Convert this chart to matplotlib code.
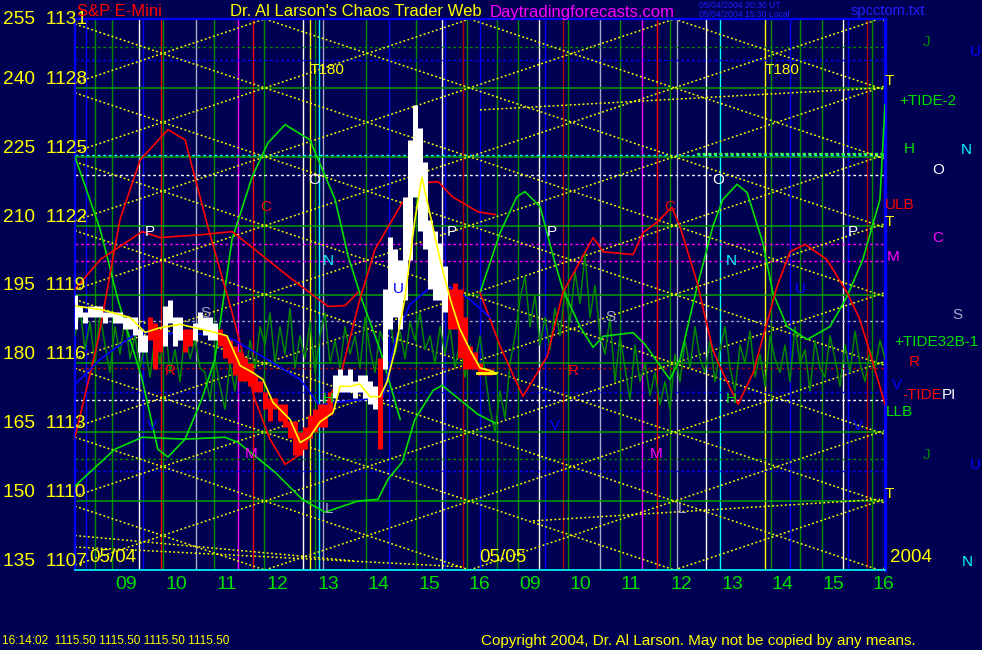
import numpy as np
import matplotlib
matplotlib.use('Agg')
import matplotlib.pyplot as plt
import matplotlib.transforms as mtransforms

plt.rcParams['font.family'] = ['Liberation Sans', 'DejaVu Sans']

BG = '#000052'
COL = {'blue': '#0000ff', 'green': '#008c00', 'white': '#ffffff', 'red': '#ff0000',
       'darkred': '#b00000', 'gray': '#a8a8c8', 'magenta': '#ff00ff', 'yellow': '#ffff00',
       'cyan': '#00ffff', 'lime': '#00e000'}

# x axis = hours (0 = 09:00 on 05/04, 8 = 09:00 on 05/05), y = chart scale (180 <-> 1116)
hour_ticks = list(range(16))
hour_labels = ['09', '10', '11', '12', '13', '14', '15', '16',
               '09', '10', '11', '12', '13', '14', '15', '16']
scale_levels = [255, 240, 225, 210, 195, 180, 165, 150, 135]
price_labels = ['1131', '1128', '1125', '1122', '1119', '1116', '1113', '1110', '1107']

# vertical time lines
vline_times = [-0.79, -0.61, -0.28, 0.26, 0.34, 0.69, 0.73, 1.39, 1.74, 2.22, 2.51, 2.73,
               3.50, 3.64, 3.74, 3.82, 3.90, 4.75, 5.21, 5.74, 6.26, 6.32, 6.67, 6.75,
               7.01, 7.35, 7.76, 8.18, 8.30, 8.65, 8.75, 9.39, 9.78, 10.22, 10.51, 10.77,
               10.91, 11.49, 11.76, 12.65, 12.77, 13.15, 13.35, 13.78, 14.20, 14.30, 14.67, 14.77]
vline_colors = ['blue', 'green', 'green', 'white', 'blue', 'red', 'green', 'gray', 'green', 'magenta',
                'red', 'green', 'white', 'yellow', 'green', 'cyan', 'gray', 'green', 'blue', 'green',
                'white', 'blue', 'darkred', 'green', 'blue', 'green', 'green', 'white', 'blue', 'darkred',
                'green', 'gray', 'green', 'magenta', 'red', 'green', 'gray', 'white', 'cyan', 'yellow',
                'green', 'blue', 'green', 'green', 'white', 'blue', 'darkred', 'green']

# horizontal price levels
grid_levels = [240, 225, 210, 195, 180, 165, 150]
hline_levels = [248.9, 246.1, 225.4, 221.1, 206.1, 202.2, 189.3, 179.1, 173.7, 172.0, 159.1, 156.5]
hline_colors = ['green', 'blue', 'cyan', 'white', 'magenta', 'magenta', 'gray', 'darkred',
                'blue', 'white', 'green', 'blue']

# yellow price-time lattice
lattice_anchor = 2.75
lattice_slope = 3.70
lattice_down = [135, 150, 165, 180, 195, 210, 225, 240, 255, 270, 285, 300]
lattice_up = [90, 105, 120, 135, 150, 165, 180, 195, 210, 225, 240, 255]
extra_lines = [(7.01, 235.2, 14.95, 240.0), (-1.01, 140.0, 6.67, 135.7),
               (8.06, 145.7, 14.93, 150.4), (-1.01, 142.5, 4.5, 137.0)]

# S&P E-mini bars (6 minute bars from 08:00)
bar_high = [1119.0, 1118.5, 1118.25, 1118.5, 1118.5, 1118.5, 1118.25, 1118.25, 1118.25, 1118.25,
            1118.0, 1118.0, 1118.0, 1117.5, 1117.25, 1118.0, 1117.75, 1117.5, 1118.5, 1118.75,
            1118.0, 1118.0, 1117.5, 1117.5, 1117.75, 1118.25, 1118.0, 1118.0, 1117.75, 1117.5,
            1117.25, 1117.0, 1116.75, 1116.5, 1116.25, 1116.0, 1115.5, 1115.25, 1114.75, 1114.5,
            1114.5, 1114.25, 1114.25, 1113.5, 1113.5, 1113.0, 1113.25, 1113.75, 1114.0, 1114.25,
            1114.25, 1114.75, 1115.5, 1115.75, 1115.5, 1115.75, 1115.25, 1115.5, 1115.5, 1115.25,
            1115.0, 1116.25, 1119.25, 1121.5, 1121.0, 1120.5, 1123.25, 1125.75, 1127.25, 1126.25,
            1124.75, 1122.25, 1121.75, 1121.25, 1120.25, 1119.25, 1119.5, 1119.25, 1118.0, 1116.75,
            1116.5, 1116.0, 1115.75, 1115.75]
bar_low = [1117.5, 1118.0, 1117.75, 1118.0, 1118.0, 1118.0, 1117.75, 1118.0, 1117.75, 1117.75,
           1117.5, 1117.5, 1117.25, 1116.5, 1116.5, 1117.0, 1115.75, 1116.5, 1116.75, 1117.75,
           1116.75, 1117.0, 1116.5, 1116.75, 1117.0, 1117.5, 1117.25, 1117.0, 1117.0, 1116.75,
           1116.25, 1116.0, 1115.5, 1115.25, 1115.25, 1115.0, 1114.75, 1114.75, 1114.0, 1113.5,
           1114.0, 1113.5, 1113.25, 1112.75, 1112.0, 1112.0, 1112.25, 1112.75, 1113.0, 1113.25,
           1113.25, 1113.75, 1114.5, 1114.75, 1114.75, 1114.75, 1114.5, 1114.75, 1114.5, 1114.25,
           1114.0, 1112.25, 1115.75, 1117.5, 1118.0, 1117.5, 1118.75, 1120.5, 1123.25, 1121.75,
           1121.0, 1119.25, 1118.75, 1118.75, 1118.25, 1117.5, 1117.5, 1116.25, 1115.75, 1115.75,
           1115.75, 1115.5, 1115.5, 1115.5]
bar_colors = ['white'] * 15 + ['red'] * 3 + ['white'] * 4 + ['red'] * 2 + ['white'] * 5 + \
             ['red'] * 23 + ['white'] * 9 + ['red'] + ['white'] * 13 + ['red'] * 9

ma_t = [-1.01, -0.51, 0.08, 0.38, 0.67, 1.07, 1.47, 1.76, 2.0, 2.26, 2.51, 2.71, 2.91, 3.25,
        3.45, 3.64, 3.84, 4.10, 4.24, 4.44, 4.63, 4.83, 5.03, 5.17, 5.33, 5.52, 5.72, 5.86,
        6.02, 6.22, 6.42, 6.61, 6.81, 7.01, 7.25]
ma_price = [1118.5, 1118.35, 1118.0, 1117.35, 1117.55, 1117.7, 1117.5, 1117.35, 1117.2, 1115.9,
            1115.6, 1115.3, 1114.3, 1113.55, 1112.55, 1112.8, 1113.45, 1113.85, 1115.0, 1115.0,
            1115.1, 1114.55, 1114.55, 1115.2, 1116.6, 1118.8, 1122.25, 1124.1, 1122.5, 1120.5,
            1118.8, 1117.5, 1116.6, 1115.8, 1115.65]

blue_t = [-1.01, -0.51, 0.22, 1.72, 2.12, 2.79, 3.45, 3.84, 4.10, 4.77, 5.09, 5.33, 5.62,
          6.02, 6.42, 6.81, 7.21]
blue_v = [175.4, 180.9, 186.7, 186.3, 185.2, 180.9, 176.5, 170.7, 171.5, 172.2, 172.8, 185.2,
          192.8, 196.5, 196.7, 193.9, 190.0]

red1_t = [-1.01, -0.55, -0.12, 0.28, 0.83, 1.17, 1.62, 2.10, 2.55, 2.85, 3.15, 3.45, 3.84,
          4.28, 4.63, 4.93, 5.47, 5.92, 6.18, 6.46, 6.97, 7.31]
red1_v = [163.9, 185.2, 211.3, 224.3, 230.9, 228.7, 209.8, 191.1, 172.2, 163.5, 158.0, 160.2,
          167.8, 178.7, 193.9, 204.8, 215.0, 219.3, 219.6, 216.3, 213.0, 212.4]
red2_t = [-1.01, -0.51, 0.32, 0.67, 1.47, 2.10, 2.55, 3.29, 4.0, 4.34, 4.59]
red2_v = [196.1, 202.6, 208.7, 207.4, 208.0, 208.7, 204.8, 198.3, 192.4, 192.6, 195.4]
red3_t = [7.01, 7.41, 7.86, 8.34, 8.65, 9.25, 9.45, 10.04, 10.24, 10.51, 10.81, 10.97, 11.31,
          11.62, 11.76, 12.12, 12.42, 12.89, 13.15, 13.45, 13.88, 14.28, 14.53, 14.73, 15.03]
red3_v = [195.4, 183.7, 172.8, 181.5, 195.4, 207.4, 204.3, 203.7, 208.5, 210.7, 214.0, 209.8,
          197.6, 183.0, 179.3, 171.1, 178.0, 196.7, 204.3, 205.9, 202.6, 195.4, 189.6, 182.4, 171.1]

limeA_t = [-1.01, -0.51, -0.16, 0.32, 0.63, 0.83, 1.17, 1.50, 1.76, 2.10, 2.50, 2.81, 3.15,
           3.64, 4.14, 4.40, 4.67, 5.03, 5.43]
limeA_v = [225.0, 209.1, 193.9, 176.5, 161.3, 159.6, 163.5, 172.2, 180.9, 207.0, 220.7, 228.0,
           232.0, 228.7, 215.7, 203.3, 193.9, 183.0, 167.8]
limeB_t = [-1.01, -0.22, 0.32, 1.17, 1.96, 2.22, 2.95, 3.49, 3.94, 4.59, 4.99, 5.19, 5.47,
           5.72, 6.08, 6.26, 6.97, 7.31]
limeB_v = [153.3, 161.3, 163.9, 163.5, 163.9, 162.8, 156.3, 150.4, 147.6, 150.0, 150.4, 154.8,
           158.5, 167.8, 174.1, 175.2, 168.9, 167.0]
limeC_t = [7.01, 7.41, 7.74, 7.90, 8.20, 8.46, 8.65, 8.99, 9.25, 9.45, 10.04, 10.28, 10.77,
           10.97, 11.31, 11.62, 11.82, 12.10, 12.30, 12.61, 12.81, 13.09, 13.49, 13.94, 14.28,
           14.59, 14.93, 15.03]
limeC_v = [195.4, 208.5, 216.3, 217.4, 214.1, 203.3, 196.1, 188.0, 183.5, 185.9, 186.7, 184.1,
           176.5, 180.9, 196.7, 209.8, 215.7, 219.0, 217.2, 206.3, 195.4, 188.0, 185.2, 188.0,
           194.6, 202.6, 215.7, 236.3]

# +TIDE32B-1 (jagged dark green), sampled every ~6 minutes from 08:00 05/04 to 16:00 05/05
tide32 = [186, 192, 183, 189, 180, 191, 184, 178, 188, 182, 190, 181, 186, 179,
          184, 177, 186, 180, 189, 178, 183, 176, 187, 181, 185, 179,
          178, 172, 181, 175, 170, 180, 174, 183, 176, 185, 179, 188,
          184, 191, 180, 188, 182, 192, 179, 186,
          181, 189, 178, 186, 191, 180, 185, 179, 188, 182,
          186, 179, 190, 183, 178, 187,
          184, 190, 182, 187, 181, 189, 185, 191, 183, 186, 180, 188,
          182, 188, 179, 185, 177, 184, 180, 186,
          178, 170, 165, 174, 168, 180, 186, 194, 199, 188, 195, 184,
          190, 183, 192, 186, 196, 189, 200, 193, 204, 190, 197, 186,
          182, 190, 176, 186, 179, 172, 184, 176,
          180, 173, 178, 171, 176, 170, 182, 176, 185, 179, 188, 181,
          178, 185, 176, 183, 188, 179, 174, 184, 180, 187, 177, 182, 175, 186, 181, 178,
          184, 176, 188, 180, 183, 174, 185, 179, 177, 186, 181, 175, 184, 178, 187, 180,
          176, 183, 179, 185, 181]

# letters drawn on the chart
marks = [(3.64, 243.9, 'T180', 'yellow'), (12.65, 243.9, 'T180', 'yellow'),
         (3.6, 220.0, 'O', 'white'), (11.6, 220.0, 'O', 'white'),
         (2.65, 214.1, 'C', 'red'), (10.65, 214.1, 'C', 'red'),
         (0.38, 208.7, 'P', 'white'), (6.36, 208.7, 'P', 'white'), (8.34, 208.7, 'P', 'white'),
         (14.3, 208.7, 'P', 'white'),
         (3.9, 202.2, 'N', 'cyan'), (11.88, 202.2, 'N', 'cyan'),
         (1.47, 191.0, 'S', 'gray'), (9.49, 190.0, 'S', 'gray'),
         (5.29, 196.1, 'U', 'blue'), (13.25, 196.1, 'U', 'blue'),
         (0.77, 178.3, 'R', 'red'), (8.75, 178.3, 'R', 'red'),
         (3.9, 172.2, 'H', 'lime'), (11.88, 172.2, 'H', 'lime'),
         (0.42, 166.3, 'V', 'blue'), (8.4, 166.3, 'V', 'blue'), (14.4, 166.3, 'V', 'blue'),
         (2.36, 160.2, 'M', 'magenta'), (10.38, 160.2, 'M', 'magenta'),
         (3.94, 148.3, 'L', 'gray'), (10.93, 148.3, 'L', 'gray')]

# labels right of the chart (figure pixels)
side_labels = [(927, 42, 'J', 'green'), (975, 52, 'U', 'blue'), (889, 81, 'T', 'yellow'),
               (928, 101, '+TIDE-2', 'lime'), (909, 149, 'H', 'lime'), (966, 150, 'N', 'cyan'),
               (938, 170, 'O', 'white'), (900, 205, 'ULB', 'red'), (889, 222, 'T', 'yellow'),
               (938, 238, 'C', 'magenta'), (893, 257, 'M', 'magenta'), (957, 315, 'S', 'gray'),
               (936, 342, '+TIDE32B-1', 'lime'), (914, 362, 'R', 'red'), (897, 385, 'V', 'blue'),
               (922, 395, '-TIDE', 'red'), (949, 395, 'PI', 'white'), (899, 412, 'LLB', 'lime'),
               (927, 455, 'J', 'green'), (975, 465, 'U', 'blue'), (889, 494, 'T', 'yellow'),
               (967, 562, 'N', 'cyan')]


def to_scale(p):
    return [180 + (x - 1116) * 5 for x in p]


fig = plt.figure(figsize=(9.82, 6.5), dpi=100, facecolor=BG)
ax = fig.add_axes([75 / 982, 1 - 570 / 650, 810 / 982, 551 / 650])
ax.set_facecolor(BG)
ax.set_xlim(-1.01, 15.03)
ax.set_ylim(135, 255)

for t, c in zip(vline_times, vline_colors):
    ax.axvline(t, color=COL[c], lw=1.0, zorder=1)
for lv in grid_levels:
    ax.axhline(lv, color='#00a000', lw=1.1, zorder=1)
for lv, c in zip(hline_levels, hline_colors):
    ax.axhline(lv, color=COL[c], lw=1.0, ls=(0, (2, 2)), zorder=1)
ax.plot([11.3, 15.03], [225.7, 225.7], color='#40ff40', lw=1.6, ls=(0, (1.5, 1)), zorder=2)

for lv in lattice_down:
    ax.axline((lattice_anchor, lv), slope=-lattice_slope, color=COL['yellow'], lw=1.1,
              ls=(0, (1.2, 1.6)), zorder=2)
for lv in lattice_up:
    ax.axline((lattice_anchor, lv), slope=lattice_slope, color=COL['yellow'], lw=1.1,
              ls=(0, (1.2, 1.6)), zorder=2)
for t0, v0, t1, v1 in extra_lines:
    ax.plot([t0, t1], [v0, v1], color=COL['yellow'], lw=1.1, ls=(0, (1.2, 1.6)), zorder=2)

tide_t = np.linspace(-1.01, 15.03, len(tide32))
ax.plot(tide_t, tide32, color='#008800', lw=1.1, zorder=3)

ax.plot(limeA_t, limeA_v, color=COL['lime'], lw=1.2, zorder=4)
ax.plot(limeB_t, limeB_v, color=COL['lime'], lw=1.2, zorder=4)
ax.plot(limeC_t, limeC_v, color=COL['lime'], lw=1.2, zorder=4)
ax.plot(red1_t, red1_v, color=COL['red'], lw=1.2, zorder=4)
ax.plot(red2_t, red2_v, color=COL['red'], lw=1.2, zorder=4)
ax.plot(red3_t, red3_v, color=COL['red'], lw=1.2, zorder=4)
ax.plot(blue_t, blue_v, color=COL['blue'], lw=1.2, zorder=4)

bar_t = -1.01 + 0.099 * np.arange(len(bar_high))
ax.vlines(bar_t, to_scale(bar_low), to_scale(bar_high),
          colors=[COL[c] for c in bar_colors], lw=3.6, zorder=5)
ax.plot(ma_t, to_scale(ma_price), color=COL['yellow'], lw=1.2, zorder=6)
ax.plot([6.95, 7.31], to_scale([1115.6, 1115.6]), color=COL['yellow'], lw=2.0, zorder=6)

for t, v, s, c in marks:
    ax.text(t, v, s, color=COL[c], fontsize=11, ha='left', va='center', zorder=7)

for sp in ['top', 'left']:
    ax.spines[sp].set_color(COL['blue'])
    ax.spines[sp].set_linewidth(1.6)
ax.spines['right'].set_color(COL['blue'])
ax.spines['right'].set_linewidth(2.4)
ax.spines['bottom'].set_color(COL['cyan'])
ax.spines['bottom'].set_linewidth(1.2)

ax.set_xticks(hour_ticks)
ax.set_xticklabels(hour_labels)
ax.tick_params(axis='x', length=0, pad=4, colors=COL['lime'], labelsize=14)
ax.set_yticks([])

trans = mtransforms.blended_transform_factory(fig.transFigure, ax.transData)
for lv, p in zip(scale_levels, price_labels):
    ax.text(3 / 982, lv, f'{lv}  {p}', transform=trans, color=COL['yellow'], fontsize=13.75,
            ha='left', va='center' if lv == 255 else 'bottom', clip_on=False, zorder=8)

ax.text(-0.72, 137.8, '05/04', color=COL['yellow'], fontsize=13.5, va='center', zorder=8)
ax.text(7.0, 137.8, '05/05', color=COL['yellow'], fontsize=13.5, va='center', zorder=8)
fig.text(890 / 982, 1 - 558 / 650, '2004', color=COL['yellow'], fontsize=13.5, va='center')

for x, y, s, c in side_labels:
    fig.text(x / 982, 1 - y / 650, s, color=COL[c], fontsize=11, ha='center', va='center')

fig.text(77 / 982, 1 - 12 / 650, 'S&P E-Mini', color=COL['red'], fontsize=12, va='center')
fig.text(230 / 982, 1 - 12 / 650, "Dr. Al Larson's Chaos Trader Web", color=COL['yellow'],
         fontsize=12, va='center')
fig.text(490 / 982, 1 - 12 / 650, 'Daytradingforecasts.com', color=COL['magenta'], fontsize=12,
         va='center')
fig.text(699 / 982, 1 - 5 / 650, '05/04/2004 20:30 UT', color='#2020ff', fontsize=6.2,
         va='center')
fig.text(699 / 982, 1 - 14.5 / 650, '05/04/2004 15:30 Local', color='#2020ff', fontsize=6.2,
         va='center')
fig.text(851 / 982, 1 - 11 / 650, 'spcctom.txt', color='#2020ff', fontsize=10.5, va='center')

fig.text(2 / 982, 1 - 641 / 650, '16:14:02  1115.50 1115.50 1115.50 1115.50',
         color=COL['yellow'], fontsize=8.5, va='center')
fig.text(481 / 982, 1 - 641 / 650,
         'Copyright 2004, Dr. Al Larson. May not be copied by any means.',
         color=COL['yellow'], fontsize=11, va='center')

fig.savefig('out.png', dpi=100, facecolor=BG)
